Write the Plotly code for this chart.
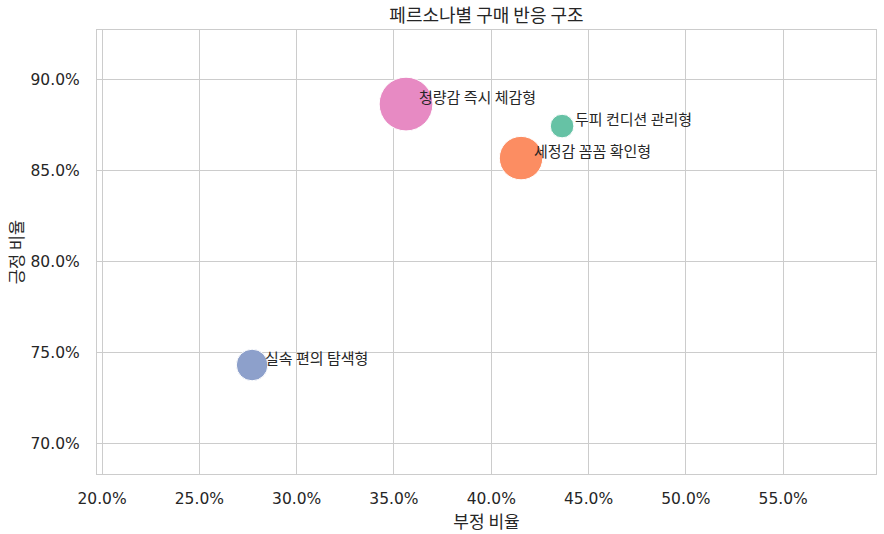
import plotly.graph_objects as go

personas = ["청량감 즉시 체감형", "두피 컨디션 관리형", "세정감 꼼꼼 확인형", "실속 편의 탐색형"]
neg_ratio = [0.3562, 0.4364, 0.4153, 0.2771]
pos_ratio = [0.8863, 0.8742, 0.8566, 0.7429]
counts = [520, 100, 340, 180]
colors = ["#e78ac3", "#66c2a5", "#fc8d62", "#8da0cb"]
x_ticks = [0.20, 0.25, 0.30, 0.35, 0.40, 0.45, 0.50, 0.55]
y_ticks = [0.70, 0.75, 0.80, 0.85, 0.90]

KFONT = "Noto Sans CJK KR"
NFONT = "DejaVu Sans, Noto Sans CJK KR"
TXT = "#262626"
fig = go.Figure()
fig.add_trace(go.Scatter(
    x=neg_ratio, y=pos_ratio, mode="markers",
    marker=dict(size=counts, sizemode="area", sizeref=0.36, color=colors,
                opacity=1, line=dict(color="white", width=1)),
    hoverinfo="text", text=personas, showlegend=False,
))
for name, xv, yv in zip(personas, neg_ratio, pos_ratio):
    fig.add_annotation(x=xv, y=yv, text=name, showarrow=False, xanchor="left",
                       yanchor="middle", xshift=11, yshift=8,
                       font=dict(family=KFONT, size=15, color=TXT))

axis_common = dict(showline=True, mirror=True, linecolor="#cccccc", linewidth=1.3,
                   showgrid=True, gridcolor="#cccccc", gridwidth=1, zeroline=False,
                   tickformat=".1%", ticks="", tickfont=dict(family=NFONT, size=15.5, color=TXT))
fig.update_xaxes(range=[0.1974, 0.5977], tickvals=x_ticks, ticklabelstandoff=10,
                 title=dict(text="부정 비율", font=dict(family=KFONT, size=17, color=TXT), standoff=4),
                 **axis_common)
fig.update_yaxes(range=[0.683, 0.927], tickvals=y_ticks, ticklabelstandoff=13,
                 title=dict(text="긍정 비율", font=dict(family=KFONT, size=16.5, color=TXT), standoff=2),
                 **axis_common)
fig.update_layout(
    width=884, height=534,
    margin=dict(l=97, r=8, t=30, b=60),
    plot_bgcolor="white", paper_bgcolor="white",
    title=dict(text="페르소나별 구매 반응 구조", x=0.5, xref="paper", xanchor="center",
               y=0.971, yanchor="middle",
               font=dict(family=KFONT, size=18, color=TXT)),
)
fig.write_html("out.html")
